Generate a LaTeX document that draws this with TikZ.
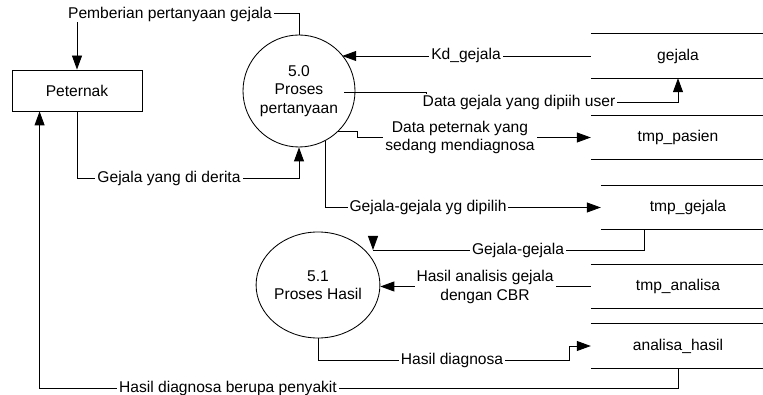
\documentclass[tikz,border=0pt]{standalone}
\usepackage{fontspec}
\setmainfont{Liberation Sans}
\usetikzlibrary{arrows.meta,shapes.geometric,calc}
\begin{document}
\begin{tikzpicture}[x=1pt,y=-1pt,
  every node/.style={font=\fontsize{15.6}{18.5}\selectfont, inner sep=0pt},
  flow/.style={draw, line width=0.85pt},
  arr/.style={-{Triangle[length=14pt,width=10pt]}},
  entity/.style={draw, line width=0.85pt, minimum width=130pt, minimum height=41pt},
  procc/.style={draw, line width=0.85pt, circle, align=center, minimum size=112pt},
  proce/.style={draw, line width=0.85pt, ellipse, align=center, minimum width=120pt, minimum height=106pt},
  store/.style={minimum width=174pt, minimum height=#1},
  store/.default=43pt,
  lbl/.style={fill=white, inner xsep=2pt, inner ysep=1pt, align=center},
]
\useasboundingbox (0,0) rectangle (763,395);

% external entity, processes and data stores
\node[entity] (pet) at (77,90.5) {Peternak};
\node[procc] (p50) at (299,91) {5.0\\Proses\\pertanyaan};
\node[proce] (p51) at (318,285) {5.1\\Proses Hasil};

\node[store=44pt] (g)  at (678,56)    {gejala};
\node[store]      (tp) at (678,137.5) {tmp\_pasien};
\node[store]      (tg) at (688,207.5) {tmp\_gejala};
\node[store]      (ta) at (678,286.5) {tmp\_analisa};
\node[store=44pt] (ah) at (678,346)   {analisa\_hasil};

\foreach \s in {g,tp,tg,ta,ah}
  \draw[line width=0.85pt] (\s.north west) -- (\s.north east)
                           (\s.south west) -- (\s.south east);

% free ends of connectors
\coordinate (dg) at (344,92);
\coordinate (ggtip) at (373,250);
\coordinate (hd) at ($(ah.west)+(-21,14)$);
\coordinate (back) at ($(pet.south west)+(28,0)$);
\coordinate (tgout) at ($(tg.south west)+(44,0)$);

% data flows
\draw[flow,arr] (p50.north) -- ++(0,-21) -| (pet.north);
\draw[flow,arr] (pet.south) -- ++(0,67.5) -| (p50.south);
\draw[flow,arr] (g.west) -- (g.west -| p50.40);
\draw[flow,arr] (dg) -- ++(82,0) -- ++(0,10) -| (g.south);
\draw[flow,arr] (p50.-46) -- ++(19,0) |- (tp.west);
\draw[flow,arr] (p50.-62) |- (tg.west);
\draw[flow] (tgout) |- (ggtip);
\draw[flow,arr] ($(ggtip)+(0,-14)$) -- (ggtip);
\draw[flow,arr] (ta.west) -- (ta.west -| p51.east);
\draw[flow,arr] (p51.south) |- (hd) |- (ah.west);
\draw[flow,arr] (ah.south) -- ++(0,20) -| (back);

% flow labels
\node[lbl] (l1)  at (170,14)    {Pemberian pertanyaan gejala};
\node[lbl] (l2)  at (169,178.5) {Gejala yang di derita};
\node[lbl] (l3)  at (466,55.5)  {Kd\_gejala};
\node[lbl] (l4)  at (519,102)   {Data gejala yang dipiih user};
\node[lbl] (l5)  at (460,137.5) {Data peternak yang\\sedang mendiagnosa};
\node[lbl] (l6)  at (428,207.5) {Gejala-gejala yg dipilih};
\node[lbl] (l7)  at (518,250)   {Gejala-gejala};
\node[lbl] (l8)  at (485,287)   {Hasil analisis gejala\\dengan CBR};
\node[lbl] (l9)  at (452,360)   {Hasil diagnosa};
\node[lbl] (l10) at (228,388)   {Hasil diagnosa berupa penyakit};
\end{tikzpicture}
\end{document}
